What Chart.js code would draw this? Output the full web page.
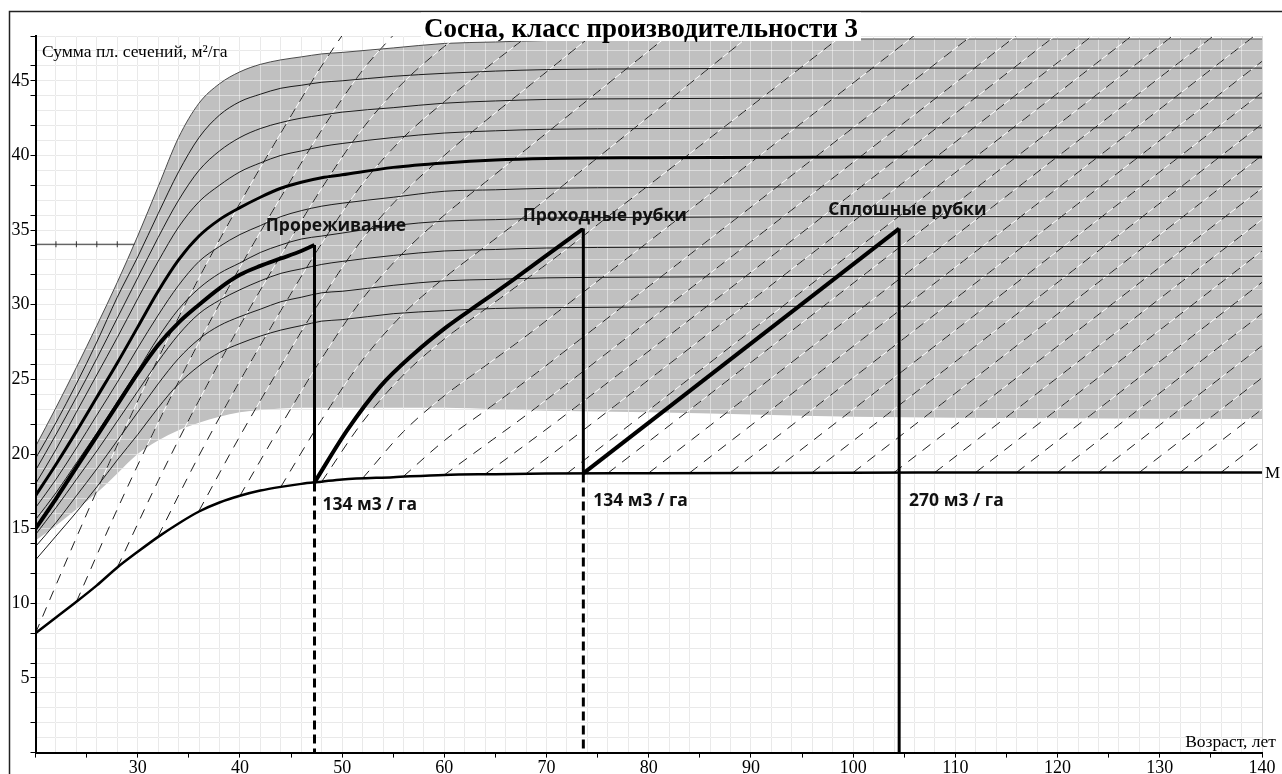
<!DOCTYPE html>
<html>
<head>
<meta charset="utf-8">
<script src="https://cdn.jsdelivr.net/npm/chart.js@4.4.0/dist/chart.umd.min.js"></script>
<style>
html,body{margin:0;padding:0;background:#fff;}
#wrap{width:1282px;height:774px;position:relative;}
</style>
</head>
<body>
<div id="wrap"><canvas id="c" width="1282" height="774"></canvas></div>
<script>
// ---------- DATA ----------
const titleText = 'Сосна, класс производительности 3';
const yTitle = 'Сумма пл. сечений, м²/га';
const xTitle = 'Возраст, лет';

const ages = [20,22,24,26,28,30,32,34,36,38,40,42,44,46,48,50,55,60,65,70,80,100,120,140];

// grey zone (upper and lower edges)
const grayTop    = [20.5,23.1,25.8,28.6,31.5,34.6,37.9,41.2,43.5,44.8,45.6,46.1,46.4,46.6,46.8,46.9,47.2,47.5,47.6,47.7,47.75,47.8,47.8,47.8];
const grayBottom = [14.2,15.2,16.3,17.4,18.7,20.0,20.9,21.6,22.1,22.5,22.8,22.95,23.05,23.1,23.1,23.1,23.1,23.1,23.0,22.9,22.8,22.5,22.4,22.35];

// family of growth curves
const curve46 = [19.7,22.1,24.7,27.5,30.5,33.2,36.1,38.9,41.2,42.7,43.6,44.1,44.5,44.7,44.9,45.0,45.3,45.5,45.65,45.75,45.8,45.85,45.85,45.85];
const curve44 = [18.9,21.3,23.8,26.4,29.1,31.8,34.5,37.0,39.0,40.3,41.2,41.8,42.2,42.5,42.7,42.9,43.2,43.5,43.65,43.75,43.8,43.85,43.85,43.85];
const curve42 = [18.0,20.3,22.8,25.3,27.8,30.4,32.9,35.2,36.9,38.0,38.9,39.5,40.0,40.3,40.6,40.8,41.2,41.5,41.65,41.75,41.8,41.85,41.85,41.85];
const curve40 = [17.2,19.3,21.5,23.8,26.1,28.5,30.9,33.0,34.6,35.7,36.5,37.2,37.8,38.2,38.5,38.7,39.2,39.5,39.7,39.8,39.85,39.9,39.9,39.9];
const curve38 = [16.4,18.3,20.4,22.6,24.8,27.1,29.3,31.3,32.9,33.9,34.7,35.3,35.9,36.3,36.6,36.8,37.2,37.6,37.7,37.8,37.85,37.9,37.9,37.9];
const curve36 = [15.6,17.4,19.4,21.4,23.5,25.6,27.8,29.7,31.1,32.1,32.8,33.5,34.0,34.4,34.6,34.8,35.3,35.6,35.7,35.8,35.85,35.9,35.9,35.9];
const curve34 = [14.6,16.4,18.3,20.2,22.2,24.2,26.2,28.0,29.4,30.3,31.0,31.6,32.1,32.4,32.7,32.9,33.3,33.6,33.7,33.8,33.85,33.9,33.9,33.9];
const curve32 = [13.8,15.4,17.2,19.0,20.9,22.8,24.7,26.4,27.7,28.6,29.2,29.7,30.2,30.5,30.8,30.9,31.3,31.6,31.7,31.8,31.85,31.9,31.9,31.9];
const curve30 = [12.9,14.5,16.1,17.8,19.6,21.3,23.1,24.7,25.9,26.8,27.4,27.9,28.3,28.6,28.9,29.0,29.4,29.6,29.75,29.8,29.85,29.9,29.9,29.9];
const curveM  = [8.0,9.05,10.1,11.2,12.4,13.45,14.45,15.35,16.15,16.75,17.2,17.55,17.8,18.0,18.15,18.3,18.45,18.6,18.65,18.7,18.72,18.75,18.77,18.77];

// management path
const thinAges = [20,22,24,26,28,30,32,34,36,38,40,42,44,46,47.3];
const thinBA   = [15.0,17.0,19.1,21.2,23.3,25.4,27.3,28.8,30.0,31.1,32.0,32.6,33.1,33.6,34.0];
const pass1Ages = [47.3,50.5,53.7,57.0,60.2,63.5,66.8,70.0,73.6];
const pass1BA   = [18.1,21.6,24.5,26.7,28.5,30.1,31.7,33.3,35.1];
const pass2Ages = [73.6,104.5];
const pass2BA   = [18.7,35.1];
const cutAges   = [47.3,73.6,104.5];   // ages of the cuts
const cutTopBA  = [34.0,35.1,35.1];    // basal area before cut
const cutLowBA  = [18.1,18.7,0];       // basal area after cut (0 = clear cut)

// reference line at 34 on the left
const refLineX = [20,29.7];
const refLineY = [34.05,34.05];
const refTicksX = [22,24,26,28];

// dashed isolines (age, basal area)
const isolines = [
  [[20,8.0],[24,14.4],[28,20.6],[32,26.4],[36,31.8],[40,36.8],[44,41.5],[48,46.0],[52,50.0]],
  [[24,10.1],[28,16.3],[32,22.1],[36,27.5],[40,32.5],[44,37.2],[48,41.7],[52,45.7],[56,48.8]],
  [[28,12.4],[32,18.2],[36,23.6],[40,28.6],[44,33.3],[48,37.8],[52,41.8],[56,44.9],[60,47.3],[64,49.3]],
  [[32,14.5],[36,19.9],[40,24.9],[44,29.6],[48,34.1],[52,38.1],[56,41.2],[60,43.6],[64,45.8],[68,47.9],[72,49.9]],
  [[36,16.2],[40,21.2],[44,25.9],[48,30.4],[52,34.4],[56,37.5],[60,40.0],[64,42.3],[68,44.5],[72,46.7],[76,48.9]],
  [[40,17.2],[44,21.9],[48,26.4],[52,30.4],[56,33.5],[60,36.0],[64,38.2],[68,40.4],[72,42.6],[76,44.8],[80,47.0],[84,49.2]],
  [[44,17.8],[48,22.3],[52,26.3],[56,29.4],[60,31.8],[64,33.9],[68,36.0],[72,38.2],[76,40.4],[80,42.6],[84,44.8],[88,47.0],[92,49.2]],
  [[48,18.15],[52,22.15],[56,25.3],[60,27.7],[64,29.7],[68,31.7],[72,33.75],[76,35.9],[80,38.0],[100,48.6]],
  [[52,18.37],[56,21.5],[60,23.9],[64,25.9],[68,27.9],[72,30.0],[108,49.1]],
  [[56,18.5],[60,20.9],[64,22.9],[68,24.9],[72,27.0],[114,49.3]],
  [[60,18.6],[64,20.6],[68,22.6],[72,24.7],[118,49.1]],
  [[64,18.65],[68,20.65],[72,22.7],[122,49.2]],
  [[68,18.68],[72,20.76],[126,49.4]],
  [[72,18.7],[128,48.4]],
  [[76,18.72],[132,48.4]],
  [[80,18.73],[136,48.4]],
  [[84,18.74],[140,48.4]],
  [[88,18.75],[140,46.3]],
  [[92,18.75],[140,44.2]],
  [[96,18.76],[140,42.1]],
  [[100,18.76],[140,40.0]],
  [[104,18.76],[140,37.8]],
  [[108,18.77],[140,35.7]],
  [[112,18.77],[140,33.6]],
  [[116,18.77],[140,31.5]],
  [[120,18.77],[140,29.4]],
  [[124,18.77],[140,27.25]],
  [[128,18.77],[140,25.1]],
  [[132,18.77],[140,23.0]],
  [[136,18.77],[140,20.9]]
];

// text annotations at data positions
const annotations = [
  {text:'Прореживание',    x:49.4,  y:34.96},
  {text:'Проходные рубки', x:75.7,  y:35.63},
  {text:'Сплошные рубки',  x:105.3, y:36.0},
  {text:'134 м3 / га',     x:52.7,  y:16.25},
  {text:'134 м3 / га',     x:79.2,  y:16.55},
  {text:'270 м3 / га',     x:110.1, y:16.55}
];
const mLabel = 'M';

// ---------- BUILD ----------
const pts = (xs, ys) => xs.map((x, i) => ({x: x, y: ys[i]}));
const datasets = [];

datasets.push({ data: pts(ages, grayTop), borderColor: '#4a4a4a', borderWidth: 1,
  fill: '+1', backgroundColor: '#c0c0c0', order: 100, cubicInterpolationMode: 'monotone' });
datasets.push({ data: pts(ages, grayBottom), borderWidth: 0, borderColor: 'rgba(0,0,0,0)',
  fill: false, order: 101, cubicInterpolationMode: 'monotone' });

datasets.push({ data: pts(refLineX, refLineY), borderColor: '#333', borderWidth: 1, order: 90 });
datasets.push({ data: pts(refTicksX, refTicksX.map(() => refLineY[0])), showLine: false,
  pointStyle: 'line', pointRotation: 90, pointRadius: 3, pointBorderColor: '#333',
  pointBorderWidth: 1, order: 90 });

isolines.forEach(line => {
  const d = line.map(p => ({x: p[0], y: p[1]}));
  datasets.push({ data: d, borderColor: '#ffffff', borderWidth: 1, order: 60, cubicInterpolationMode: 'monotone' });
  datasets.push({ data: d, borderColor: '#1e1e1e', borderWidth: 1, borderDash: [10, 8], order: 50, cubicInterpolationMode: 'monotone' });
});

[curve46, curve44, curve42, curve38, curve36, curve34, curve32, curve30].forEach(c => {
  datasets.push({ data: pts(ages, c), borderColor: '#1a1a1a', borderWidth: 1, order: 30, cubicInterpolationMode: 'monotone' });
});
datasets.push({ data: pts(ages, curve40), borderColor: '#000', borderWidth: 3, order: 20, cubicInterpolationMode: 'monotone' });
datasets.push({ data: pts(ages, curveM), borderColor: '#000', borderWidth: 2.5, order: 20, cubicInterpolationMode: 'monotone' });

datasets.push({ data: pts(thinAges, thinBA), borderColor: '#000', borderWidth: 4, order: 5, cubicInterpolationMode: 'monotone' });
datasets.push({ data: pts(pass1Ages, pass1BA), borderColor: '#000', borderWidth: 4, order: 5, cubicInterpolationMode: 'monotone' });
datasets.push({ data: pts(pass2Ages, pass2BA), borderColor: '#000', borderWidth: 4, order: 5 });
cutAges.forEach((a, i) => {
  datasets.push({ data: [{x: a, y: cutTopBA[i]}, {x: a, y: cutLowBA[i]}], borderColor: '#000', borderWidth: 3, order: 4 });
  if (cutLowBA[i] > 0) {
    datasets.push({ data: [{x: a, y: cutLowBA[i]}, {x: a, y: 0}], borderColor: '#000', borderWidth: 3,
      borderDash: [9, 5], order: 4 });
  }
});

datasets.forEach(d => { if (d.pointRadius === undefined) d.pointRadius = 0; if (d.fill === undefined) d.fill = false; });

function alignPx(p, w) { const h = w / 2; return Math.round(p - h) + h; }

const decorPlugin = {
  id: 'decor',
  beforeDraw(chart) {
    const ctx = chart.ctx;
    ctx.save();
    ctx.fillStyle = '#fff';
    ctx.fillRect(0, 0, chart.width, chart.height);
    ctx.restore();
  },
  beforeDatasetsDraw(chart) {
    // lighter grid over the grey zone
    const ctx = chart.ctx, a = chart.chartArea, xs = chart.scales.x, ys = chart.scales.y;
    ctx.save();
    ctx.beginPath(); ctx.rect(a.left, a.top, a.right - a.left, a.bottom - a.top); ctx.clip();
    ctx.strokeStyle = 'rgba(255,255,255,0.45)';
    ctx.lineWidth = 1;
    ctx.beginPath();
    for (let v = 22; v <= 140; v += 2) { const x = alignPx(xs.getPixelForValue(v), 1); ctx.moveTo(x, a.top); ctx.lineTo(x, a.bottom); }
    for (let v = 1; v <= 48; v += 1) { const y = alignPx(ys.getPixelForValue(v), 1); ctx.moveTo(a.left, y); ctx.lineTo(a.right, y); }
    ctx.stroke();
    ctx.restore();
  },
  afterDraw(chart) {
    const ctx = chart.ctx, a = chart.chartArea, xs = chart.scales.x, ys = chart.scales.y;
    ctx.save();
    // annotations
    ctx.fillStyle = '#111';
    ctx.font = 'bold 17.5px "Open Sans"';
    ctx.textAlign = 'center';
    ctx.textBaseline = 'alphabetic';
    annotations.forEach(t => ctx.fillText(t.text, xs.getPixelForValue(t.x), ys.getPixelForValue(t.y)));
    // axis titles
    ctx.fillStyle = '#000';
    ctx.font = '17.5px "Liberation Serif"';
    ctx.textAlign = 'left';
    ctx.fillText(yTitle, a.left + 6.5, 57);
    ctx.font = '17.5px "Liberation Serif"';
    ctx.textAlign = 'right';
    ctx.fillText(xTitle, a.right + 14, ys.getPixelForValue(0) - 6);
    ctx.textAlign = 'left';
    ctx.font = '17px "Liberation Serif"';
    ctx.fillText(mLabel, a.right + 3, ys.getPixelForValue(curveM[curveM.length - 1]) + 6);
    // frame
    ctx.strokeStyle = '#222';
    ctx.lineWidth = 1.5;
    ctx.strokeRect(9.5, 11.5, 1400, 900);
    // title with white box
    ctx.font = 'bold 27px "Liberation Serif"';
    const w = ctx.measureText(titleText).width;
    const cx = 641;
    ctx.fillStyle = '#fff';
    ctx.fillRect(cx - w / 2 - 3, 12.5, w + 6, 28.5);
    ctx.fillStyle = '#000';
    ctx.textAlign = 'center';
    ctx.fillText(titleText, cx, 37);
    ctx.restore();
  }
};

const isInt = v => Math.abs(v - Math.round(v)) < 1e-6;

new Chart(document.getElementById('c'), {
  type: 'line',
  data: { datasets: datasets },
  plugins: [decorPlugin],
  options: {
    responsive: false,
    animation: false,
    events: [],
    devicePixelRatio: 1,
    layout: { padding: { left: 9.5, right: 20, top: 36, bottom: 0 } },
    plugins: {
      legend: { display: false },
      tooltip: { enabled: false },
      filler: { drawTime: 'beforeDatasetsDraw' }
    },
    scales: {
      x: {
        type: 'linear', min: 20, max: 140,
        afterFit: s => { s.height = 21.4; },
        border: { color: '#000', width: 2, z: 1 },
        grid: {
          color: c => (c.tick && isInt(c.tick.value) && Math.round(c.tick.value) % 2 === 0) ? '#d8d8d8' : 'rgba(0,0,0,0)',
          tickColor: c => (c.tick && Math.round(c.tick.value) % 5 === 0) ? '#000' : 'rgba(0,0,0,0)',
          tickLength: 5,
          lineWidth: 1
        },
        ticks: {
          stepSize: 1, autoSkip: false, maxRotation: 0, minRotation: 0, padding: 0,
          color: '#000', font: { family: 'Liberation Serif', size: 18 },
          callback: v => (Math.round(v) % 10 === 0 && v > 20) ? String(Math.round(v)) : ''
        }
      },
      y: {
        type: 'linear', min: 0, max: 48,
        afterFit: s => { s.width = 26; },
        border: { color: '#000', width: 2, z: 1 },
        grid: {
          color: '#d8d8d8',
          tickColor: c => { const v = Math.round(c.tick ? c.tick.value : 1); return (v % 5 === 0 || v % 2 === 0) ? '#000' : 'rgba(0,0,0,0)'; },
          tickLength: 5,
          lineWidth: 1
        },
        ticks: {
          stepSize: 1, autoSkip: false, padding: 1,
          color: '#000', font: { family: 'Liberation Serif', size: 18 },
          callback: v => (Math.round(v) % 5 === 0 && v > 0 && v < 48) ? String(Math.round(v)) : ''
        }
      }
    }
  }
});
</script>
</body>
</html>
